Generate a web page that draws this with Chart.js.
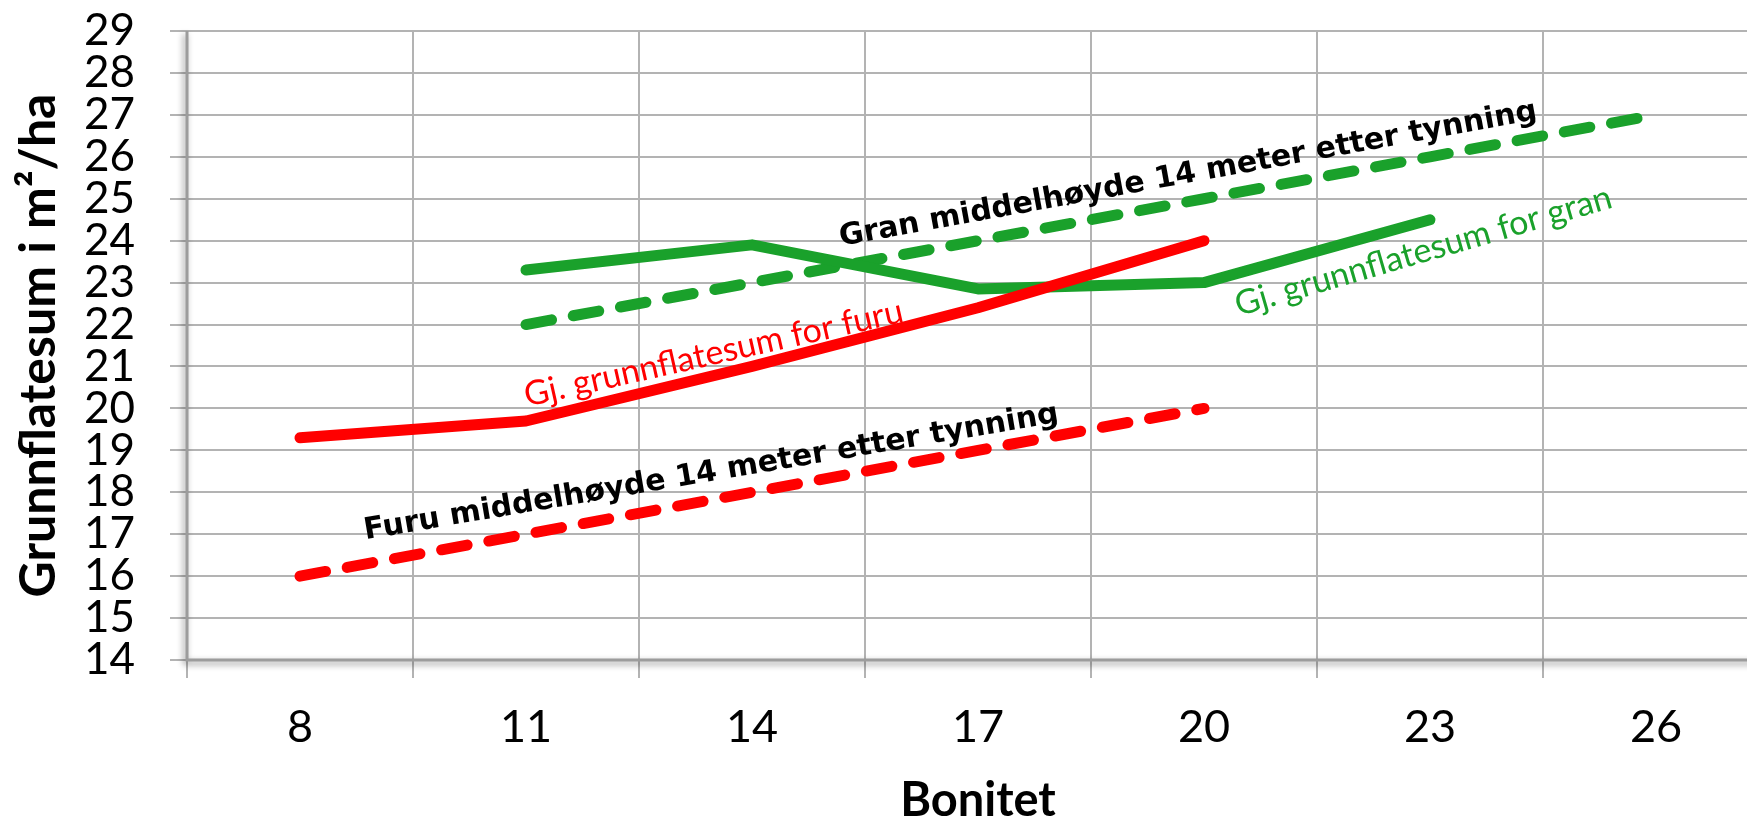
<!DOCTYPE html>
<html>
<head>
<meta charset="utf-8">
<script src="https://cdn.jsdelivr.net/npm/chart.js@4.4.0/dist/chart.umd.min.js"></script>
<style>
html, body { margin: 0; padding: 0; overflow: hidden; background: #fff; }
#wrap { width: 1780px; height: 821px; position: relative; }
</style>
</head>
<body>
<div id="wrap"><canvas id="chart"></canvas></div>
<script>
// bonitet-klasser (x-akse)
const bonitet = ['8', '11', '14', '17', '20', '23', '26'];

// grunnflatesum m2/ha
const furuSnitt        = [19.3, 19.7, 21.0, 22.4, 24.0, null, null];
const furuEtterTynning = [16, 17, 18, 19, 20, null, null];
const granSnitt        = [null, 23.3, 23.9, 22.85, 23.0, 24.5, null];
const granEtterTynning = [null, 22, 23, 24, 25, 26, 27];

const yMin = 14;
const yMax = 29;

const rod = '#ff0000';
const gronn = '#1aa12b';

// tekster som ligger langs linjene (x = kategori-indeks, y = verdi)
const notater = [
  { text: 'Gran middelhøyde 14 meter etter tynning', x: 3.93, y: 25.57, vinkel: -10.3, farge: '#000', font: 'bold 30px "DejaVu Sans"' },
  { text: 'Furu middelhøyde 14 meter etter tynning', x: 1.82, y: 18.46, vinkel: -9.6, farge: '#000', font: 'bold 30px "DejaVu Sans"' },
  { text: 'Gj. grunnflatesum for furu', x: 1.83, y: 21.31, vinkel: -12.7, farge: rod, font: '34px Lato' },
  { text: 'Gj. grunnflatesum for gran', x: 4.97, y: 23.75, vinkel: -16.2, farge: gronn, font: '34px Lato' },
];

const linjeTekst = {
  id: 'linjeTekst',
  afterDatasetsDraw(chart) {
    const {ctx, scales: {x, y}} = chart;
    notater.forEach(n => {
      ctx.save();
      ctx.translate(x.getPixelForValue(n.x), y.getPixelForValue(n.y));
      ctx.rotate(n.vinkel * Math.PI / 180);
      ctx.font = n.font;
      ctx.fillStyle = n.farge;
      ctx.textAlign = 'center';
      ctx.textBaseline = 'middle';
      ctx.fillText(n.text, 0, 0);
      ctx.restore();
    });
  }
};

// aksene har en liten skygge i originalen
const aksLinjer = {
  id: 'aksLinjer',
  beforeDatasetsDraw(chart) {
    const {ctx, chartArea: a} = chart;
    ctx.save();
    ctx.strokeStyle = '#9c9c9c';
    ctx.lineWidth = 3;
    ctx.shadowColor = 'rgba(0,0,0,0.45)';
    ctx.shadowBlur = 6;
    ctx.shadowOffsetX = -2;
    ctx.shadowOffsetY = 3;
    ctx.beginPath();
    ctx.moveTo(a.left, a.top);
    ctx.lineTo(a.left, a.bottom);
    ctx.lineTo(a.right, a.bottom);
    ctx.stroke();
    ctx.restore();
  }
};

function linje(data, farge, stiplet) {
  return {
    data: data,
    borderColor: farge,
    backgroundColor: farge,
    borderWidth: 11,
    borderCapStyle: 'round',
    borderJoinStyle: 'round',
    borderDash: stiplet ? [26, 22] : [],
    pointRadius: 0,
    pointHoverRadius: 0,
    tension: 0,
    fill: false,
  };
}

new Chart(document.getElementById('chart'), {
  type: 'line',
  data: {
    labels: bonitet,
    datasets: [
      linje(furuSnitt, rod, false),
      linje(furuEtterTynning, rod, true),
      linje(granSnitt, gronn, false),
      linje(granEtterTynning, gronn, true),
    ]
  },
  options: {
    responsive: true,
    maintainAspectRatio: false,
    animation: false,
    layout: { padding: { top: 31, right: 11, left: 0, bottom: 0 } },
    plugins: { legend: { display: false }, tooltip: { enabled: false } },
    scales: {
      x: {
        offset: true,
        grid: { offset: true, color: '#b3b3b3', lineWidth: 2, tickLength: 18 },
        border: { display: false },
        ticks: { color: '#000', font: { family: 'Lato', size: 45 }, padding: 22, maxRotation: 0, autoSkip: false },
        title: { display: true, text: 'Bonitet', color: '#000', font: { family: 'Lato', size: 47, weight: 'bold', lineHeight: 1 }, padding: { top: 0, bottom: -3 } },
        afterFit: s => { s.height = 161; }
      },
      y: {
        min: yMin,
        max: yMax,
        grid: { color: '#b3b3b3', lineWidth: 2, tickLength: 17 },
        border: { display: false },
        ticks: { stepSize: 1, color: '#000', font: { family: 'Lato', size: 44 }, padding: 35, autoSkip: false },
        title: { display: true, text: 'Grunnflatesum i m²/ha', color: '#000', font: { family: 'Lato', size: 50, weight: 'bold', lineHeight: 1.2 }, padding: { top: 9, bottom: 0 } },
        afterFit: s => { s.width = 187; s.paddingTop = 0; s.paddingBottom = 0; }
      }
    }
  },
  plugins: [aksLinjer, linjeTekst]
});
</script>
</body>
</html>
